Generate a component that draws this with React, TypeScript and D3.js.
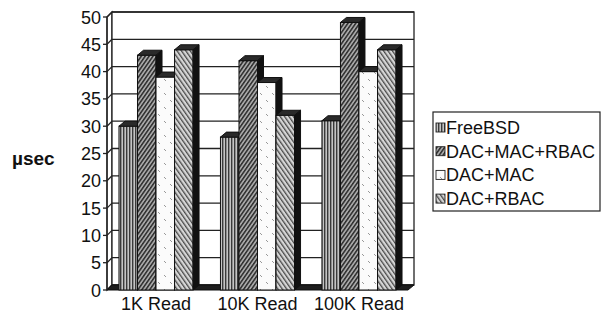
import React from "react";
import * as d3 from "d3";

const categories = ["1K Read", "10K Read", "100K Read"];
const seriesNames = ["FreeBSD", "DAC+MAC+RBAC", "DAC+MAC", "DAC+RBAC"];
const freeBSD = [30, 28, 31];
const dacMacRbac = [43, 42, 49];
const dacMac = [39, 38, 40];
const dacRbac = [44, 32, 44];
const yTicks = [0, 5, 10, 15, 20, 25, 30, 35, 40, 45, 50];
const yLabel = "µsec";

const seriesValues = [freeBSD, dacMacRbac, dacMac, dacRbac];
const patternIds = ["pFree", "pDMR", "pDM", "pDR"];

const W = 612;
const H = 315;
const X0 = 107;
const X1 = 408;
const DX = 6;
const DY = 5;
const FONT = "'Liberation Sans', Arial, sans-serif";

export default function App() {
  const x0 = d3
    .scaleBand<string>()
    .domain(categories)
    .range([X0, X1])
    .paddingInner(0.27)
    .paddingOuter(0.118);
  const x1 = d3
    .scaleBand<string>()
    .domain(seriesNames)
    .range([0, x0.bandwidth()]);
  const y = d3.scaleLinear().domain([0, 50]).range([290, 17]);

  const bars: React.ReactNode[] = [];
  categories.forEach((c, ci) => {
    seriesNames.forEach((s, si) => {
      const v = seriesValues[si][ci];
      const x = (x0(c) as number) + (x1(s) as number);
      const w = x1.bandwidth();
      const yT = y(v);
      const yB = y(0);
      bars.push(
        <g key={c + s}>
          <rect x={x} y={yT} width={w} height={yB - yT} fill={`url(#${patternIds[si]})`} stroke="#111" strokeWidth={1} />
          <polygon
            points={`${x},${yT} ${x + w},${yT} ${x + w + DX},${yT - DY} ${x + DX},${yT - DY}`}
            fill="#2a2a2a"
            stroke="#111"
            strokeWidth={1}
          />
          <polygon
            points={`${x + w},${yT} ${x + w + DX},${yT - DY} ${x + w + DX},${yB - DY} ${x + w},${yB}`}
            fill="#111"
            stroke="#111"
            strokeWidth={1}
          />
        </g>
      );
    });
  });

  const legendX = 433;
  const legendY = 112;

  return (
    <svg width={W} height={H} style={{ position: "absolute", left: 0, top: 0, background: "#fff" }}>
      <defs>
        <pattern id="pFree" patternUnits="userSpaceOnUse" width={3} height={10}>
          <rect width={3} height={10} fill="#c4c4c4" />
          <rect x={0} width={1.4} height={10} fill="#3a3a3a" />
        </pattern>
        <pattern id="pDMR" patternUnits="userSpaceOnUse" width={3.2} height={10} patternTransform="rotate(35)">
          <rect width={3.2} height={10} fill="#a8a8a8" />
          <rect x={0} width={1.5} height={10} fill="#2e2e2e" />
        </pattern>
        <pattern id="pDM" patternUnits="userSpaceOnUse" width={12} height={14}>
          <rect width={12} height={14} fill="#fbfbfb" />
          <line x1={2} y1={2} x2={4} y2={4} stroke="#999" strokeWidth={1} />
          <line x1={8} y1={9} x2={10} y2={11} stroke="#999" strokeWidth={1} />
        </pattern>
        <pattern id="pDR" patternUnits="userSpaceOnUse" width={3.6} height={10} patternTransform="rotate(-35)">
          <rect width={3.6} height={10} fill="#d6d6d6" />
          <rect x={0} width={1.3} height={10} fill="#4a4a4a" />
        </pattern>
      </defs>

      {/* left side wall */}
      <polygon
        points={`${X0},${y(0)} ${X0 + 5},${y(0) - 5} ${X0 + 5},${y(50) - 5} ${X0},${y(50)}`}
        fill="#fff"
        stroke="#222"
        strokeWidth={1.3}
      />
      {/* back wall */}
      <rect
        x={X0 + 5}
        y={y(50) - 5}
        width={X1 + DX - (X0 + 5)}
        height={y(0) - y(50)}
        fill="#fff"
        stroke="#222"
        strokeWidth={1.3}
      />
      {yTicks.map((t) => (
        <g key={t}>
          <line x1={X0 + 5} x2={X1 + DX} y1={y(t) - 5} y2={y(t) - 5} stroke="#222" strokeWidth={1.3} />
          <line x1={X0} x2={X0 + 5} y1={y(t)} y2={y(t) - 5} stroke="#222" strokeWidth={1.3} />
          <line x1={X0 - 4} x2={X0} y1={y(t)} y2={y(t)} stroke="#222" strokeWidth={1.3} />
          <text
            x={101}
            y={y(t) + 6.5}
            textAnchor="end"
            fontFamily={FONT}
            fontSize={18}
            fill="#111"
          >
            {t}
          </text>
        </g>
      ))}
      {/* floor */}
      <polygon
        points={`${X0},${y(0)} ${X1},${y(0)} ${X1 + DX},${y(0) - 5} ${X0 + 5},${y(0) - 5}`}
        fill="#1e1e1e"
        stroke="#111"
        strokeWidth={1}
      />
      <line x1={X0} x2={X0} y1={y(0)} y2={y(50)} stroke="#222" strokeWidth={1.3} />

      {bars}

      {categories.map((c) => (
        <text
          key={c}
          x={(x0(c) as number) + x0.bandwidth() / 2}
          y={310}
          textAnchor="middle"
          fontFamily={FONT}
          fontSize={18}
          fill="#111"
        >
          {c}
        </text>
      ))}

      <text x={12} y={165} fontFamily={FONT} fontSize={19} fontWeight="bold" fill="#111">
        {yLabel}
      </text>

      {/* legend */}
      <rect x={legendX} y={legendY} width={167} height={99} fill="#fff" stroke="#222" strokeWidth={1.2} />
      {seriesNames.map((s, i) => {
        const base = 134 + i * 23.7;
        return (
          <g key={s}>
            <rect x={436} y={base - 11} width={9} height={9} fill={`url(#${patternIds[i]})`} stroke="#222" strokeWidth={0.9} />
            <text x={446} y={base} fontFamily={FONT} fontSize={18} fill="#111">
              {s}
            </text>
          </g>
        );
      })}
    </svg>
  );
}
